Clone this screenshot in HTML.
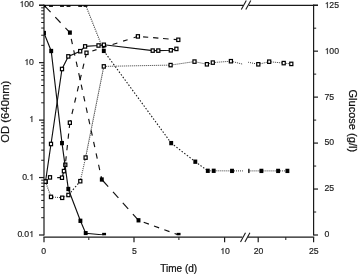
<!DOCTYPE html>
<html><head><meta charset="utf-8"><style>
html,body{margin:0;padding:0;background:#fff;}
body{width:358px;height:276px;overflow:hidden;}
svg{display:block;font-family:"Liberation Sans",sans-serif;will-change:transform;}
</style></head><body>
<svg width="358" height="276" viewBox="0 0 358 276">
<defs><clipPath id="pc"><path d="M44.0 5.2 H242.89999999999998 V235.2 H44.0 Z M248.20000000000002 5.2 H313.6 V235.2 H248.20000000000002 Z"/></clipPath></defs>
<rect width="358" height="276" fill="#fff"/>
<line x1="44.0" y1="4.6000000000000005" x2="44.0" y2="235.6" stroke="#1a1a1a" stroke-width="1.2"/>
<line x1="313.6" y1="4.6000000000000005" x2="313.6" y2="235.6" stroke="#1a1a1a" stroke-width="1.2"/>
<line x1="39" y1="5.4" x2="243.2" y2="5.4" stroke="#1a1a1a" stroke-width="1.2"/>
<line x1="248.8" y1="5.4" x2="318" y2="5.4" stroke="#1a1a1a" stroke-width="1.2"/>
<line x1="43.4" y1="237.2" x2="242.39999999999998" y2="237.2" stroke="#1a1a1a" stroke-width="1.2"/>
<line x1="247.8" y1="237.2" x2="314.20000000000005" y2="237.2" stroke="#1a1a1a" stroke-width="1.2"/>
<line x1="241.3" y1="9.6" x2="246.3" y2="0.40000000000000036" stroke="#1a1a1a" stroke-width="1.1"/>
<line x1="245.8" y1="9.6" x2="250.8" y2="0.40000000000000036" stroke="#1a1a1a" stroke-width="1.1"/>
<line x1="240.5" y1="241.9" x2="245.5" y2="232.70000000000002" stroke="#1a1a1a" stroke-width="1.1"/>
<line x1="244.9" y1="241.9" x2="249.9" y2="232.70000000000002" stroke="#1a1a1a" stroke-width="1.1"/>
<line x1="39" y1="235.00" x2="44.0" y2="235.00" stroke="#1a1a1a" stroke-width="1.2"/>
<line x1="41.2" y1="217.71" x2="44.0" y2="217.71" stroke="#1a1a1a" stroke-width="1"/>
<line x1="41.2" y1="207.59" x2="44.0" y2="207.59" stroke="#1a1a1a" stroke-width="1"/>
<line x1="41.2" y1="200.41" x2="44.0" y2="200.41" stroke="#1a1a1a" stroke-width="1"/>
<line x1="41.2" y1="194.84" x2="44.0" y2="194.84" stroke="#1a1a1a" stroke-width="1"/>
<line x1="41.2" y1="190.30" x2="44.0" y2="190.30" stroke="#1a1a1a" stroke-width="1"/>
<line x1="41.2" y1="186.45" x2="44.0" y2="186.45" stroke="#1a1a1a" stroke-width="1"/>
<line x1="41.2" y1="183.12" x2="44.0" y2="183.12" stroke="#1a1a1a" stroke-width="1"/>
<line x1="41.2" y1="180.18" x2="44.0" y2="180.18" stroke="#1a1a1a" stroke-width="1"/>
<line x1="39" y1="177.55" x2="44.0" y2="177.55" stroke="#1a1a1a" stroke-width="1.2"/>
<line x1="41.2" y1="160.26" x2="44.0" y2="160.26" stroke="#1a1a1a" stroke-width="1"/>
<line x1="41.2" y1="150.14" x2="44.0" y2="150.14" stroke="#1a1a1a" stroke-width="1"/>
<line x1="41.2" y1="142.96" x2="44.0" y2="142.96" stroke="#1a1a1a" stroke-width="1"/>
<line x1="41.2" y1="137.39" x2="44.0" y2="137.39" stroke="#1a1a1a" stroke-width="1"/>
<line x1="41.2" y1="132.85" x2="44.0" y2="132.85" stroke="#1a1a1a" stroke-width="1"/>
<line x1="41.2" y1="129.00" x2="44.0" y2="129.00" stroke="#1a1a1a" stroke-width="1"/>
<line x1="41.2" y1="125.67" x2="44.0" y2="125.67" stroke="#1a1a1a" stroke-width="1"/>
<line x1="41.2" y1="122.73" x2="44.0" y2="122.73" stroke="#1a1a1a" stroke-width="1"/>
<line x1="39" y1="120.10" x2="44.0" y2="120.10" stroke="#1a1a1a" stroke-width="1.2"/>
<line x1="41.2" y1="102.81" x2="44.0" y2="102.81" stroke="#1a1a1a" stroke-width="1"/>
<line x1="41.2" y1="92.69" x2="44.0" y2="92.69" stroke="#1a1a1a" stroke-width="1"/>
<line x1="41.2" y1="85.51" x2="44.0" y2="85.51" stroke="#1a1a1a" stroke-width="1"/>
<line x1="41.2" y1="79.94" x2="44.0" y2="79.94" stroke="#1a1a1a" stroke-width="1"/>
<line x1="41.2" y1="75.40" x2="44.0" y2="75.40" stroke="#1a1a1a" stroke-width="1"/>
<line x1="41.2" y1="71.55" x2="44.0" y2="71.55" stroke="#1a1a1a" stroke-width="1"/>
<line x1="41.2" y1="68.22" x2="44.0" y2="68.22" stroke="#1a1a1a" stroke-width="1"/>
<line x1="41.2" y1="65.28" x2="44.0" y2="65.28" stroke="#1a1a1a" stroke-width="1"/>
<line x1="39" y1="62.65" x2="44.0" y2="62.65" stroke="#1a1a1a" stroke-width="1.2"/>
<line x1="41.2" y1="45.36" x2="44.0" y2="45.36" stroke="#1a1a1a" stroke-width="1"/>
<line x1="41.2" y1="35.24" x2="44.0" y2="35.24" stroke="#1a1a1a" stroke-width="1"/>
<line x1="41.2" y1="28.06" x2="44.0" y2="28.06" stroke="#1a1a1a" stroke-width="1"/>
<line x1="41.2" y1="22.49" x2="44.0" y2="22.49" stroke="#1a1a1a" stroke-width="1"/>
<line x1="41.2" y1="17.95" x2="44.0" y2="17.95" stroke="#1a1a1a" stroke-width="1"/>
<line x1="41.2" y1="14.10" x2="44.0" y2="14.10" stroke="#1a1a1a" stroke-width="1"/>
<line x1="41.2" y1="10.77" x2="44.0" y2="10.77" stroke="#1a1a1a" stroke-width="1"/>
<line x1="41.2" y1="7.83" x2="44.0" y2="7.83" stroke="#1a1a1a" stroke-width="1"/>
<line x1="39" y1="5.20" x2="44.0" y2="5.20" stroke="#1a1a1a" stroke-width="1.2"/>
<line x1="313.6" y1="235.00" x2="318" y2="235.00" stroke="#1a1a1a" stroke-width="1.2"/>
<line x1="313.6" y1="189.04" x2="318" y2="189.04" stroke="#1a1a1a" stroke-width="1.2"/>
<line x1="313.6" y1="143.08" x2="318" y2="143.08" stroke="#1a1a1a" stroke-width="1.2"/>
<line x1="313.6" y1="97.12" x2="318" y2="97.12" stroke="#1a1a1a" stroke-width="1.2"/>
<line x1="313.6" y1="51.16" x2="318" y2="51.16" stroke="#1a1a1a" stroke-width="1.2"/>
<line x1="313.6" y1="5.20" x2="318" y2="5.20" stroke="#1a1a1a" stroke-width="1.2"/>
<line x1="313.6" y1="212.02" x2="316.2" y2="212.02" stroke="#1a1a1a" stroke-width="1"/>
<line x1="313.6" y1="166.06" x2="316.2" y2="166.06" stroke="#1a1a1a" stroke-width="1"/>
<line x1="313.6" y1="120.10" x2="316.2" y2="120.10" stroke="#1a1a1a" stroke-width="1"/>
<line x1="313.6" y1="74.14" x2="316.2" y2="74.14" stroke="#1a1a1a" stroke-width="1"/>
<line x1="313.6" y1="28.18" x2="316.2" y2="28.18" stroke="#1a1a1a" stroke-width="1"/>
<line x1="44.0" y1="237.2" x2="44.0" y2="242.2" stroke="#1a1a1a" stroke-width="1.2"/>
<line x1="134.0" y1="237.2" x2="134.0" y2="242.2" stroke="#1a1a1a" stroke-width="1.2"/>
<line x1="224.6" y1="237.2" x2="224.6" y2="242.2" stroke="#1a1a1a" stroke-width="1.2"/>
<line x1="258.2" y1="237.2" x2="258.2" y2="242.2" stroke="#1a1a1a" stroke-width="1.2"/>
<line x1="313.6" y1="237.2" x2="313.6" y2="242.2" stroke="#1a1a1a" stroke-width="1.2"/>
<line x1="88.8" y1="237.2" x2="88.8" y2="240" stroke="#1a1a1a" stroke-width="1"/>
<line x1="178.9" y1="237.2" x2="178.9" y2="240" stroke="#1a1a1a" stroke-width="1"/>
<line x1="285.8" y1="237.2" x2="285.8" y2="240" stroke="#1a1a1a" stroke-width="1"/>
<path d="M763 0L583 0L583 1100Q530 1050 450 1000Q370 950 300 925L300 1080Q420 1140 500 1230Q590 1320 643 1409L763 1409Z" transform="translate(19.38,7.00) scale(0.004248,-0.004248)" fill="#222" stroke="#222" stroke-width="42.4"/>
<text x="24.22" y="7.40" font-size="8.7" fill="#222" stroke="#222" stroke-width="0.18">0</text>
<text x="29.06" y="7.40" font-size="8.7" fill="#222" stroke="#222" stroke-width="0.18">0</text>
<path d="M763 0L583 0L583 1100Q530 1050 450 1000Q370 950 300 925L300 1080Q420 1140 500 1230Q590 1320 643 1409L763 1409Z" transform="translate(24.22,65.00) scale(0.004248,-0.004248)" fill="#222" stroke="#222" stroke-width="42.4"/>
<text x="29.06" y="64.85" font-size="8.7" fill="#222" stroke="#222" stroke-width="0.18">0</text>
<path d="M763 0L583 0L583 1100Q530 1050 450 1000Q370 950 300 925L300 1080Q420 1140 500 1230Q590 1320 643 1409L763 1409Z" transform="translate(29.06,122.00) scale(0.004248,-0.004248)" fill="#222" stroke="#222" stroke-width="42.4"/>
<text x="22.26" y="179.75" font-size="8.7" fill="#222" stroke="#222" stroke-width="0.18">0</text>
<text x="26.64" y="179.75" font-size="8.7" fill="#222" stroke="#222" stroke-width="0.18">.</text>
<path d="M763 0L583 0L583 1100Q530 1050 450 1000Q370 950 300 925L300 1080Q420 1140 500 1230Q590 1320 643 1409L763 1409Z" transform="translate(29.06,180.00) scale(0.004248,-0.004248)" fill="#222" stroke="#222" stroke-width="42.4"/>
<text x="17.42" y="237.20" font-size="8.7" fill="#222" stroke="#222" stroke-width="0.18">0</text>
<text x="21.81" y="237.20" font-size="8.7" fill="#222" stroke="#222" stroke-width="0.18">.</text>
<text x="24.22" y="237.20" font-size="8.7" fill="#222" stroke="#222" stroke-width="0.18">0</text>
<path d="M763 0L583 0L583 1100Q530 1050 450 1000Q370 950 300 925L300 1080Q420 1140 500 1230Q590 1320 643 1409L763 1409Z" transform="translate(29.06,237.00) scale(0.004248,-0.004248)" fill="#222" stroke="#222" stroke-width="42.4"/>
<text x="324.50" y="237.40" font-size="8.7" fill="#222" stroke="#222" stroke-width="0.18">0</text>
<text x="324.50" y="191.44" font-size="8.7" fill="#222" stroke="#222" stroke-width="0.18">2</text>
<text x="329.34" y="191.44" font-size="8.7" fill="#222" stroke="#222" stroke-width="0.18">5</text>
<text x="324.50" y="145.48" font-size="8.7" fill="#222" stroke="#222" stroke-width="0.18">5</text>
<text x="329.34" y="145.48" font-size="8.7" fill="#222" stroke="#222" stroke-width="0.18">0</text>
<text x="324.50" y="99.52" font-size="8.7" fill="#222" stroke="#222" stroke-width="0.18">7</text>
<text x="329.34" y="99.52" font-size="8.7" fill="#222" stroke="#222" stroke-width="0.18">5</text>
<path d="M763 0L583 0L583 1100Q530 1050 450 1000Q370 950 300 925L300 1080Q420 1140 500 1230Q590 1320 643 1409L763 1409Z" transform="translate(324.50,54.00) scale(0.004248,-0.004248)" fill="#222" stroke="#222" stroke-width="42.4"/>
<text x="329.34" y="53.56" font-size="8.7" fill="#222" stroke="#222" stroke-width="0.18">0</text>
<text x="334.18" y="53.56" font-size="8.7" fill="#222" stroke="#222" stroke-width="0.18">0</text>
<path d="M763 0L583 0L583 1100Q530 1050 450 1000Q370 950 300 925L300 1080Q420 1140 500 1230Q590 1320 643 1409L763 1409Z" transform="translate(324.50,8.00) scale(0.004248,-0.004248)" fill="#222" stroke="#222" stroke-width="42.4"/>
<text x="329.34" y="7.60" font-size="8.7" fill="#222" stroke="#222" stroke-width="0.18">2</text>
<text x="334.18" y="7.60" font-size="8.7" fill="#222" stroke="#222" stroke-width="0.18">5</text>
<text x="41.28" y="253.90" font-size="8.7" fill="#222" stroke="#222" stroke-width="0.18">0</text>
<text x="131.88" y="253.90" font-size="8.7" fill="#222" stroke="#222" stroke-width="0.18">5</text>
<path d="M763 0L583 0L583 1100Q530 1050 450 1000Q370 950 300 925L300 1080Q420 1140 500 1230Q590 1320 643 1409L763 1409Z" transform="translate(220.16,254.00) scale(0.004248,-0.004248)" fill="#222" stroke="#222" stroke-width="42.4"/>
<text x="225.00" y="253.90" font-size="8.7" fill="#222" stroke="#222" stroke-width="0.18">0</text>
<text x="253.76" y="253.90" font-size="8.7" fill="#222" stroke="#222" stroke-width="0.18">2</text>
<text x="258.60" y="253.90" font-size="8.7" fill="#222" stroke="#222" stroke-width="0.18">0</text>
<text x="308.96" y="253.90" font-size="8.7" fill="#222" stroke="#222" stroke-width="0.18">2</text>
<text x="313.80" y="253.90" font-size="8.7" fill="#222" stroke="#222" stroke-width="0.18">5</text>
<text x="178.7" y="272.3" font-size="10" text-anchor="middle" fill="#111" stroke="#111" stroke-width="0.22">Time (d)</text>
<text transform="translate(9.4,111.7) rotate(-90)" x="0" y="0" font-size="11.3" text-anchor="middle" fill="#111" stroke="#111" stroke-width="0.2">OD (640nm)</text>
<text transform="translate(349.3,120.8) rotate(90) scale(0.97,1)" x="0" y="0" font-size="11.4" text-anchor="middle" fill="#111" stroke="#111" stroke-width="0.25">Glucose (g/l)</text>
<g clip-path="url(#pc)">
<line x1="44.0" y1="4.7" x2="51.0" y2="4.7" stroke="#3a3a3a" stroke-width="1.0" stroke-dasharray="1.00,1.00"/>
<line x1="51.0" y1="4.7" x2="62.0" y2="4.7" stroke="#3a3a3a" stroke-width="1.0" stroke-dasharray="1.00,1.00"/>
<line x1="62.0" y1="4.7" x2="68.5" y2="4.7" stroke="#3a3a3a" stroke-width="1.0" stroke-dasharray="1.00,1.00"/>
<line x1="68.5" y1="4.7" x2="80.2" y2="4.7" stroke="#3a3a3a" stroke-width="1.0" stroke-dasharray="1.00,1.00"/>
<line x1="80.2" y1="4.7" x2="85.5" y2="4.7" stroke="#3a3a3a" stroke-width="1.0" stroke-dasharray="1.00,1.00"/>
<line x1="85.5" y1="4.7" x2="103.8" y2="50.9" stroke="#1a1a1a" stroke-width="1.1" stroke-dasharray="0.97,1.18"/>
<line x1="103.8" y1="50.9" x2="171.2" y2="143.1" stroke="#1a1a1a" stroke-width="1.1" stroke-dasharray="1.49,1.73"/>
<line x1="171.2" y1="143.1" x2="195.3" y2="161.7" stroke="#1a1a1a" stroke-width="1.1" stroke-dasharray="1.52,1.77"/>
<line x1="195.3" y1="161.7" x2="207.8" y2="170.8" stroke="#1a1a1a" stroke-width="1.1" stroke-dasharray="1.48,1.73"/>
<line x1="207.8" y1="170.8" x2="213.7" y2="170.8" stroke="#3a3a3a" stroke-width="1.0" stroke-dasharray="1.00,1.00"/>
<line x1="213.7" y1="170.8" x2="232.0" y2="170.9" stroke="#3a3a3a" stroke-width="1.0" stroke-dasharray="1.00,1.00"/>
<line x1="232.0" y1="170.9" x2="247.6" y2="170.9" stroke="#3a3a3a" stroke-width="1.0" stroke-dasharray="1.00,1.00"/>
<line x1="247.6" y1="170.9" x2="261.4" y2="170.9" stroke="#3a3a3a" stroke-width="1.0" stroke-dasharray="1.00,1.00"/>
<line x1="261.4" y1="170.9" x2="278.1" y2="170.9" stroke="#3a3a3a" stroke-width="1.0" stroke-dasharray="1.00,1.00"/>
<line x1="278.1" y1="170.9" x2="287.4" y2="170.9" stroke="#3a3a3a" stroke-width="1.0" stroke-dasharray="1.00,1.00"/>
<rect x="42.05" y="2.55" width="3.9" height="4.3" fill="#000"/>
<rect x="49.05" y="2.55" width="3.9" height="4.3" fill="#000"/>
<rect x="60.05" y="2.55" width="3.9" height="4.3" fill="#000"/>
<rect x="66.55" y="2.55" width="3.9" height="4.3" fill="#000"/>
<rect x="78.25" y="2.55" width="3.9" height="4.3" fill="#000"/>
<rect x="83.55" y="2.55" width="3.9" height="4.3" fill="#000"/>
<rect x="101.85" y="48.75" width="3.9" height="4.3" fill="#000"/>
<rect x="169.25" y="140.95" width="3.9" height="4.3" fill="#000"/>
<rect x="193.35" y="159.55" width="3.9" height="4.3" fill="#000"/>
<rect x="205.85" y="168.65" width="3.9" height="4.3" fill="#000"/>
<rect x="211.75" y="168.65" width="3.9" height="4.3" fill="#000"/>
<rect x="230.05" y="168.75" width="3.9" height="4.3" fill="#000"/>
<rect x="245.65" y="168.75" width="3.9" height="4.3" fill="#000"/>
<rect x="259.45" y="168.75" width="3.9" height="4.3" fill="#000"/>
<rect x="276.15" y="168.75" width="3.9" height="4.3" fill="#000"/>
<rect x="285.45" y="168.75" width="3.9" height="4.3" fill="#000"/>
<line x1="45.5" y1="181.6" x2="51.0" y2="196.9" stroke="#1a1a1a" stroke-width="1.1" stroke-dasharray="0.96,1.17"/>
<line x1="51.0" y1="196.9" x2="62.2" y2="197.8" stroke="#3a3a3a" stroke-width="1.0" stroke-dasharray="1.00,1.00"/>
<line x1="62.2" y1="197.8" x2="68.4" y2="195.0" stroke="#3a3a3a" stroke-width="1.0" stroke-dasharray="1.10,1.10"/>
<line x1="68.4" y1="195.0" x2="80.3" y2="181.2" stroke="#1a1a1a" stroke-width="1.1" stroke-dasharray="1.58,1.85"/>
<line x1="80.3" y1="181.2" x2="85.6" y2="157.6" stroke="#1a1a1a" stroke-width="1.1" stroke-dasharray="0.92,1.13"/>
<line x1="85.6" y1="157.6" x2="103.8" y2="66.4" stroke="#1a1a1a" stroke-width="1.1" stroke-dasharray="0.92,1.12"/>
<line x1="103.8" y1="66.4" x2="170.6" y2="65.1" stroke="#3a3a3a" stroke-width="1.0" stroke-dasharray="1.00,1.00"/>
<line x1="170.6" y1="65.1" x2="194.5" y2="61.6" stroke="#3a3a3a" stroke-width="1.0" stroke-dasharray="1.01,1.01"/>
<line x1="194.5" y1="61.6" x2="206.9" y2="64.3" stroke="#3a3a3a" stroke-width="1.0" stroke-dasharray="1.02,1.02"/>
<line x1="206.9" y1="64.3" x2="212.8" y2="62.6" stroke="#3a3a3a" stroke-width="1.0" stroke-dasharray="1.04,1.04"/>
<line x1="212.8" y1="62.6" x2="230.9" y2="61.2" stroke="#3a3a3a" stroke-width="1.0" stroke-dasharray="1.00,1.00"/>
<line x1="230.9" y1="61.2" x2="244.0" y2="64.5" stroke="#3a3a3a" stroke-width="1.0" stroke-dasharray="1.03,1.03"/>
<line x1="244.0" y1="64.5" x2="246.0" y2="61.8" stroke="#1a1a1a" stroke-width="1.1" stroke-dasharray="1.49,1.74"/>
<line x1="246.0" y1="61.8" x2="258.3" y2="64.3" stroke="#3a3a3a" stroke-width="1.0" stroke-dasharray="1.02,1.02"/>
<line x1="258.3" y1="64.3" x2="269.2" y2="61.7" stroke="#3a3a3a" stroke-width="1.0" stroke-dasharray="1.03,1.03"/>
<line x1="269.2" y1="61.7" x2="283.7" y2="63.1" stroke="#3a3a3a" stroke-width="1.0" stroke-dasharray="1.00,1.00"/>
<line x1="283.7" y1="63.1" x2="291.3" y2="63.9" stroke="#3a3a3a" stroke-width="1.0" stroke-dasharray="1.01,1.01"/>
<rect x="43.95" y="179.90" width="3.10" height="3.40" fill="#fff" stroke="#000" stroke-width="1.2"/>
<rect x="49.45" y="195.20" width="3.10" height="3.40" fill="#fff" stroke="#000" stroke-width="1.2"/>
<rect x="60.65" y="196.10" width="3.10" height="3.40" fill="#fff" stroke="#000" stroke-width="1.2"/>
<rect x="66.85" y="193.30" width="3.10" height="3.40" fill="#fff" stroke="#000" stroke-width="1.2"/>
<rect x="78.75" y="179.50" width="3.10" height="3.40" fill="#fff" stroke="#000" stroke-width="1.2"/>
<rect x="84.05" y="155.90" width="3.10" height="3.40" fill="#fff" stroke="#000" stroke-width="1.2"/>
<rect x="102.25" y="64.70" width="3.10" height="3.40" fill="#fff" stroke="#000" stroke-width="1.2"/>
<rect x="169.05" y="63.40" width="3.10" height="3.40" fill="#fff" stroke="#000" stroke-width="1.2"/>
<rect x="192.95" y="59.90" width="3.10" height="3.40" fill="#fff" stroke="#000" stroke-width="1.2"/>
<rect x="205.35" y="62.60" width="3.10" height="3.40" fill="#fff" stroke="#000" stroke-width="1.2"/>
<rect x="211.25" y="60.90" width="3.10" height="3.40" fill="#fff" stroke="#000" stroke-width="1.2"/>
<rect x="229.35" y="59.50" width="3.10" height="3.40" fill="#fff" stroke="#000" stroke-width="1.2"/>
<rect x="256.75" y="62.60" width="3.10" height="3.40" fill="#fff" stroke="#000" stroke-width="1.2"/>
<rect x="267.65" y="60.00" width="3.10" height="3.40" fill="#fff" stroke="#000" stroke-width="1.2"/>
<rect x="282.15" y="61.40" width="3.10" height="3.40" fill="#fff" stroke="#000" stroke-width="1.2"/>
<rect x="289.75" y="62.20" width="3.10" height="3.40" fill="#fff" stroke="#000" stroke-width="1.2"/>
<line x1="44.00" y1="5.20" x2="50.60" y2="12.18" stroke="#111" stroke-width="1.15"/>
<line x1="55.30" y1="17.15" x2="60.60" y2="22.76" stroke="#111" stroke-width="1.15"/>
<line x1="65.40" y1="27.84" x2="69.90" y2="32.60" stroke="#111" stroke-width="1.15"/>
<line x1="69.90" y1="32.60" x2="69.91" y2="32.65" stroke="#111" stroke-width="1.15"/>
<line x1="71.25" y1="38.80" x2="72.40" y2="44.10" stroke="#111" stroke-width="1.15"/>
<line x1="73.73" y1="50.25" x2="74.88" y2="55.55" stroke="#111" stroke-width="1.15"/>
<line x1="76.22" y1="61.70" x2="77.37" y2="67.00" stroke="#111" stroke-width="1.15"/>
<line x1="78.71" y1="73.15" x2="80.24" y2="80.20" stroke="#111" stroke-width="1.15"/>
<line x1="81.19" y1="84.60" x2="82.34" y2="89.90" stroke="#111" stroke-width="1.15"/>
<line x1="83.68" y1="96.05" x2="84.83" y2="101.35" stroke="#111" stroke-width="1.15"/>
<line x1="86.16" y1="107.50" x2="87.32" y2="112.80" stroke="#111" stroke-width="1.15"/>
<line x1="88.65" y1="118.95" x2="89.80" y2="124.25" stroke="#111" stroke-width="1.15"/>
<line x1="91.14" y1="130.40" x2="92.29" y2="135.70" stroke="#111" stroke-width="1.15"/>
<line x1="93.62" y1="141.85" x2="94.78" y2="147.15" stroke="#111" stroke-width="1.15"/>
<line x1="96.11" y1="153.30" x2="97.26" y2="158.60" stroke="#111" stroke-width="1.15"/>
<line x1="98.60" y1="164.75" x2="99.75" y2="170.05" stroke="#111" stroke-width="1.15"/>
<line x1="101.08" y1="176.20" x2="101.80" y2="179.50" stroke="#111" stroke-width="1.15"/>
<line x1="101.80" y1="179.50" x2="108.20" y2="186.61" stroke="#111" stroke-width="1.15"/>
<line x1="113.00" y1="191.95" x2="118.40" y2="197.95" stroke="#111" stroke-width="1.15"/>
<line x1="122.80" y1="202.85" x2="128.20" y2="208.85" stroke="#111" stroke-width="1.15"/>
<line x1="132.90" y1="214.07" x2="138.10" y2="219.86" stroke="#111" stroke-width="1.15"/>
<line x1="143.70" y1="222.21" x2="148.90" y2="224.11" stroke="#111" stroke-width="1.15"/>
<line x1="154.00" y1="225.98" x2="159.10" y2="227.85" stroke="#111" stroke-width="1.15"/>
<line x1="164.30" y1="229.76" x2="169.50" y2="231.66" stroke="#111" stroke-width="1.15"/>
<line x1="174.60" y1="233.53" x2="178.60" y2="235.00" stroke="#111" stroke-width="1.15"/>
<rect x="42.05" y="3.05" width="3.9" height="4.3" fill="#000"/>
<rect x="67.95" y="30.45" width="3.9" height="4.3" fill="#000"/>
<rect x="99.85" y="177.35" width="3.9" height="4.3" fill="#000"/>
<rect x="136.55" y="218.15" width="3.9" height="4.3" fill="#000"/>
<rect x="176.65" y="232.85" width="3.9" height="4.3" fill="#000"/>
<line x1="57.20" y1="177.58" x2="60.50" y2="177.66" stroke="#111" stroke-width="1.15"/>
<polyline points="62.0,177.7 63.9,171.1 65.3,164.8" fill="none" stroke="#111" stroke-width="1.15"/>
<line x1="69.28" y1="128.00" x2="69.85" y2="122.70" stroke="#111" stroke-width="1.15"/>
<line x1="68.12" y1="138.70" x2="68.68" y2="133.50" stroke="#111" stroke-width="1.15"/>
<line x1="66.87" y1="150.30" x2="67.44" y2="145.00" stroke="#111" stroke-width="1.15"/>
<line x1="65.68" y1="161.30" x2="66.23" y2="156.20" stroke="#111" stroke-width="1.15"/>
<line x1="85.38" y1="57.50" x2="86.50" y2="52.80" stroke="#111" stroke-width="1.15"/>
<line x1="82.69" y1="68.80" x2="83.93" y2="63.60" stroke="#111" stroke-width="1.15"/>
<line x1="80.00" y1="80.10" x2="81.24" y2="74.90" stroke="#111" stroke-width="1.15"/>
<line x1="77.31" y1="91.40" x2="78.54" y2="86.20" stroke="#111" stroke-width="1.15"/>
<line x1="74.61" y1="102.70" x2="75.85" y2="97.50" stroke="#111" stroke-width="1.15"/>
<line x1="71.92" y1="114.00" x2="73.16" y2="108.80" stroke="#111" stroke-width="1.15"/>
<line x1="69.99" y1="122.10" x2="70.47" y2="120.10" stroke="#111" stroke-width="1.15"/>
<line x1="92.30" y1="50.95" x2="96.50" y2="49.61" stroke="#111" stroke-width="1.15"/>
<line x1="102.00" y1="47.85" x2="106.50" y2="46.42" stroke="#111" stroke-width="1.15"/>
<line x1="112.60" y1="44.47" x2="117.40" y2="42.94" stroke="#111" stroke-width="1.15"/>
<line x1="123.10" y1="41.12" x2="127.60" y2="39.69" stroke="#111" stroke-width="1.15"/>
<line x1="133.60" y1="37.77" x2="137.70" y2="36.46" stroke="#111" stroke-width="1.15"/>
<line x1="143.10" y1="36.84" x2="148.20" y2="37.27" stroke="#111" stroke-width="1.15"/>
<line x1="153.10" y1="37.68" x2="158.40" y2="38.13" stroke="#111" stroke-width="1.15"/>
<line x1="163.00" y1="38.51" x2="168.60" y2="38.98" stroke="#111" stroke-width="1.15"/>
<line x1="173.70" y1="39.41" x2="178.30" y2="39.80" stroke="#111" stroke-width="1.15"/>
<rect x="43.95" y="179.90" width="3.10" height="3.40" fill="#fff" stroke="#000" stroke-width="1.2"/>
<rect x="48.45" y="175.70" width="3.10" height="3.40" fill="#fff" stroke="#000" stroke-width="1.2"/>
<rect x="60.45" y="176.00" width="3.10" height="3.40" fill="#fff" stroke="#000" stroke-width="1.2"/>
<rect x="62.35" y="169.40" width="3.10" height="3.40" fill="#fff" stroke="#000" stroke-width="1.2"/>
<rect x="63.75" y="163.10" width="3.10" height="3.40" fill="#fff" stroke="#000" stroke-width="1.2"/>
<rect x="68.30" y="121.00" width="3.10" height="3.40" fill="#fff" stroke="#000" stroke-width="1.2"/>
<rect x="84.95" y="51.10" width="3.10" height="3.40" fill="#fff" stroke="#000" stroke-width="1.2"/>
<rect x="136.35" y="34.70" width="3.10" height="3.40" fill="#fff" stroke="#000" stroke-width="1.2"/>
<rect x="176.75" y="38.10" width="3.10" height="3.40" fill="#fff" stroke="#000" stroke-width="1.2"/>
<polyline points="45.5,181.6 51.0,144.0 62.0,69.0 68.3,56.4 80.2,51.2 85.1,46.4 98.5,45.5 103.9,44.8 152.7,50.6 158.3,50.6 170.8,50.3 176.4,48.9" fill="none" stroke="#111" stroke-width="1.15"/>
<rect x="43.95" y="179.90" width="3.10" height="3.40" fill="#fff" stroke="#000" stroke-width="1.2"/>
<rect x="49.45" y="142.30" width="3.10" height="3.40" fill="#fff" stroke="#000" stroke-width="1.2"/>
<rect x="60.45" y="67.30" width="3.10" height="3.40" fill="#fff" stroke="#000" stroke-width="1.2"/>
<rect x="66.75" y="54.70" width="3.10" height="3.40" fill="#fff" stroke="#000" stroke-width="1.2"/>
<rect x="78.65" y="49.50" width="3.10" height="3.40" fill="#fff" stroke="#000" stroke-width="1.2"/>
<rect x="83.55" y="44.70" width="3.10" height="3.40" fill="#fff" stroke="#000" stroke-width="1.2"/>
<rect x="96.95" y="43.80" width="3.10" height="3.40" fill="#fff" stroke="#000" stroke-width="1.2"/>
<rect x="102.35" y="43.10" width="3.10" height="3.40" fill="#fff" stroke="#000" stroke-width="1.2"/>
<rect x="151.15" y="48.90" width="3.10" height="3.40" fill="#fff" stroke="#000" stroke-width="1.2"/>
<rect x="156.75" y="48.90" width="3.10" height="3.40" fill="#fff" stroke="#000" stroke-width="1.2"/>
<rect x="169.25" y="48.60" width="3.10" height="3.40" fill="#fff" stroke="#000" stroke-width="1.2"/>
<rect x="174.85" y="47.20" width="3.10" height="3.40" fill="#fff" stroke="#000" stroke-width="1.2"/>
<polyline points="44.0,33.0 51.2,51.0 62.0,143.1 68.3,189.0 80.4,220.8 85.7,233.2 104.1,235.0" fill="none" stroke="#111" stroke-width="1.15"/>
<rect x="42.05" y="30.85" width="3.9" height="4.3" fill="#000"/>
<rect x="49.25" y="48.85" width="3.9" height="4.3" fill="#000"/>
<rect x="60.05" y="140.95" width="3.9" height="4.3" fill="#000"/>
<rect x="66.35" y="186.85" width="3.9" height="4.3" fill="#000"/>
<rect x="78.45" y="218.65" width="3.9" height="4.3" fill="#000"/>
<rect x="83.75" y="231.05" width="3.9" height="4.3" fill="#000"/>
<rect x="102.15" y="232.85" width="3.9" height="4.3" fill="#000"/>
</g>
</svg>
</body></html>
